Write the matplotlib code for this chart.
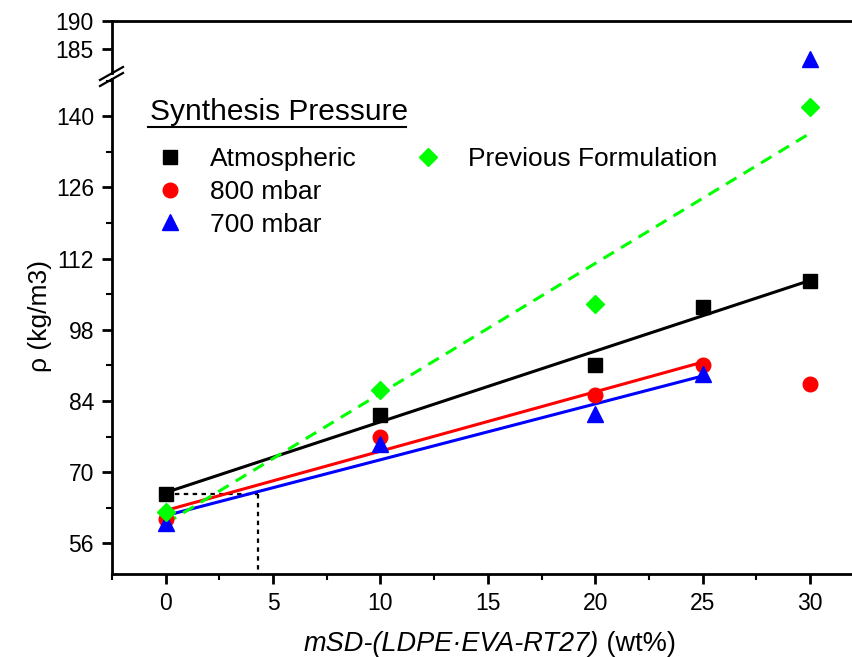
import numpy as np
import matplotlib
matplotlib.use("Agg")
import matplotlib.pyplot as plt
from matplotlib.lines import Line2D
from matplotlib.ticker import MultipleLocator
from matplotlib.offsetbox import TextArea, HPacker, AnchoredOffsetbox

plt.rcParams['font.family'] = ['Liberation Sans', 'DejaVu Sans']

# data
x_press = [0, 10, 20, 25, 30]
atm = [65.7, 81.3, 91.1, 102.5, 107.6]
mbar800 = [60.9, 77.0, 85.2, 91.0, 87.3]
mbar700 = [60.0, 75.6, 81.4, 89.3, 183.2]

x_prev = [0, 10, 20, 30]
prev = [62.2, 86.1, 103.0, 141.8]

# points used in each linear fit (800/700 mbar fits stop at 25 wt%)
n_fit_800 = 4
n_fit_700 = 4

# dotted guide: atmospheric density at 0 wt% reached by the 700 mbar line
x_equiv = 4.3

# axis ranges
xlim = (-2.5, 32)
ylim_low = (50, 147.3)
ylim_high = (180.7, 190)

fig = plt.figure(figsize=(8.53, 6.57), dpi=100)
W, H = 853, 657
ax_hi = fig.add_axes([112 / W, 1 - 73 / H, 1 - 112 / W, 52 / H])
ax = fig.add_axes([112 / W, 1 - 574 / H, 1 - 112 / W, 495 / H], sharex=ax_hi)

lw = 2.2
ms = dict(linestyle='none', zorder=5)


def fit_line(a, xs, ys, x0, x1, color, **kw):
    m, b = np.polyfit(xs, ys, 1)
    xx = np.array([x0, x1])
    a.plot(xx, m * xx + b, color=color, lw=lw, zorder=3, **kw)


for a in (ax, ax_hi):
    fit_line(a, x_press, atm, 0, 30, 'black')
    fit_line(a, x_press[:n_fit_800], mbar800[:n_fit_800], 0, 25, '#ff0000')
    fit_line(a, x_press[:n_fit_700], mbar700[:n_fit_700], 0, 25, '#0000ff')
    fit_line(a, x_prev, prev, 0, 30, '#00ff00', dashes=(4, 2.7))

    a.plot(x_press, atm, marker='s', color='black', markersize=9.5, **ms)
    a.plot(x_press, mbar800, marker='o', color='#ff0000', markersize=10.5, **ms)
    a.plot(x_press, mbar700, marker='^', color='#0000ff', markersize=11, **ms)
    a.plot(x_prev, prev, marker='D', color='#00ff00', markersize=9, **ms)

# dotted guide lines
ax.plot([0, x_equiv], [atm[0], atm[0]], color='black', lw=1.6, dashes=(2, 2), zorder=2)
ax.plot([x_equiv, x_equiv], [atm[0], ylim_low[0]], color='black', lw=1.6, dashes=(2, 2), zorder=2)

ax.set_xlim(*xlim)
ax.set_ylim(*ylim_low)
ax_hi.set_ylim(*ylim_high)

ax.xaxis.set_major_locator(MultipleLocator(5))
ax.xaxis.set_minor_locator(MultipleLocator(2.5))
ax.yaxis.set_major_locator(MultipleLocator(14))
ax.yaxis.set_minor_locator(MultipleLocator(7))
ax_hi.yaxis.set_major_locator(MultipleLocator(5))
ax_hi.yaxis.set_minor_locator(MultipleLocator(100))

for a in (ax, ax_hi):
    for s in a.spines.values():
        s.set_linewidth(2)
    a.spines['right'].set_visible(False)
    a.tick_params(which='major', direction='out', length=7, width=2, labelsize=16.5, pad=6)
    a.tick_params(which='minor', direction='out', length=4, width=1.5)

ax.spines['top'].set_visible(False)
ax_hi.spines['bottom'].set_visible(False)
ax_hi.tick_params(axis='x', which='both', bottom=False, labelbottom=False)

# break marks on the y axis
for y0 in (80, 86):
    fig.add_artist(Line2D([100 / W, 123 / W], [1 - y0 / H, 1 - (y0 - 13) / H],
                          color='black', lw=1.6, transform=fig.transFigure))

# axis labels
fig.text(40 / W, 1 - 316 / H, 'ρ (kg/m3)', rotation=90, fontsize=19,
         ha='center', va='center')
xl = HPacker(children=[TextArea('mSD-(LDPE·EVA-RT27)', textprops=dict(fontsize=19.5, style='italic')),
                       TextArea(' (wt%)', textprops=dict(fontsize=19.5))],
             align='baseline', pad=0, sep=0)
fig.add_artist(AnchoredOffsetbox(loc='center', child=xl, frameon=False, pad=0, borderpad=0,
                                 bbox_to_anchor=(490 / W, 1 - 644 / H),
                                 bbox_transform=fig.transFigure))

# legend title with underline
fig.text(150 / W, 1 - 112 / H, 'Synthesis Pressure', fontsize=21.5, ha='left', va='center')
fig.add_artist(Line2D([148 / W, 406 / W], [1 - 127 / H, 1 - 127 / H], color='black', lw=1.5,
                      transform=fig.transFigure))

# legend entries
blank = Line2D([], [], linestyle='none')
handles = [
    Line2D([], [], marker='s', color='black', markersize=9.5, linestyle='none'),
    Line2D([], [], marker='o', color='#ff0000', markersize=10.5, linestyle='none'),
    Line2D([], [], marker='^', color='#0000ff', markersize=11, linestyle='none'),
    Line2D([], [], marker='D', color='#00ff00', markersize=9, linestyle='none'),
    blank, blank,
]
labels = ['Atmospheric', '800 mbar', '700 mbar', 'Previous Formulation', '', '']
leg = ax.legend(handles, labels, ncol=2, frameon=False, fontsize=19,
                loc='upper left', bbox_to_anchor=(144 / W, 1 - 134 / H),
                bbox_transform=fig.transFigure, borderpad=0, handlelength=1.0,
                handletextpad=1.0, columnspacing=2.2, labelspacing=0.33)

fig.savefig('out.png', dpi=100)
